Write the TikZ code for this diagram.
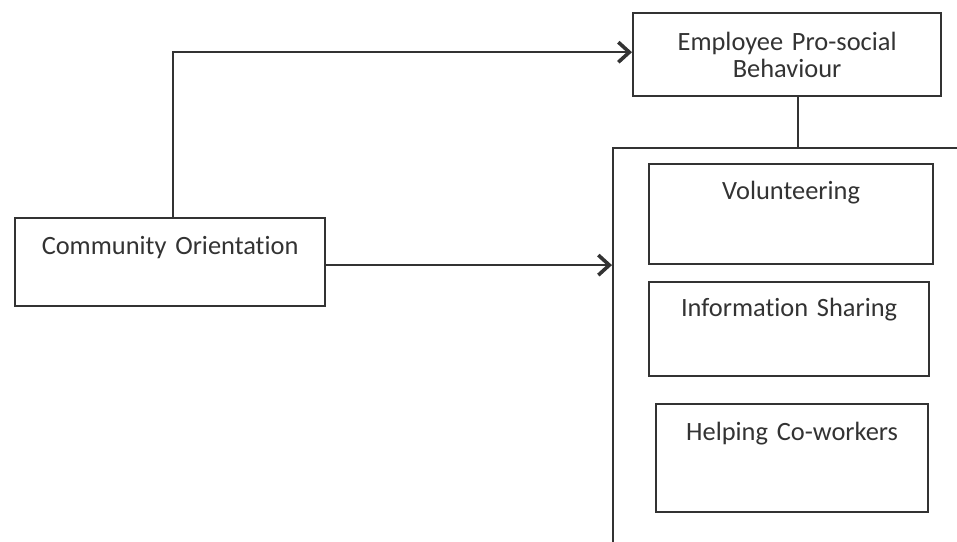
\documentclass[tikz,border=0pt]{standalone}
\usepackage{fontspec}
\setmainfont{Carlito}[Ligatures=NoCommon]
\usetikzlibrary{arrows.meta}

\begin{document}
\begin{tikzpicture}[
    x=0.5pt, y=-0.5pt,
    box/.style={draw=black!80, line width=1.1pt, fill=white, inner sep=0pt, align=center, anchor=north west,
        text=black!80, font=\fontsize{13.2}{13.5}\selectfont},
    frame/.style={draw=black!80, line width=1.1pt, inner sep=0pt, anchor=north west},
    link/.style={draw=black!80, line width=1pt},
    arrow/.style={link, -{Straight Barb[length=5.5pt, width=10pt, line width=1.8pt]}}
]
    \useasboundingbox (0,0) rectangle (957,541);
    \clip (0,0) rectangle (957,541);

    % ==================== LEFT BOX ====================
    \node[box, text width=155pt, text height=18pt, text depth=26pt] (co) at (14,217) {Community Orientation};

    % ==================== TOP BOX ====================
    \node[box, text width=154pt, minimum height=41.5pt] (epb) at (632,12) {Employee Pro-social\\Behaviour};

    % ==================== DIMENSIONS ====================
    % Frame (runs off the page on the right and at the bottom)
    \node[frame, minimum width=250pt, minimum height=250pt] (dims) at (612,147) {};

    \node[box, text width=142pt, text height=17.5pt, text depth=32.5pt] (vol) at (648,163) {Volunteering};
    \node[box, text width=140pt, text height=17pt, text depth=30pt] (info) at (648,281) {Information Sharing};
    \node[box, text width=136pt, text height=18pt, text depth=36pt] (help) at (655,403) {Helping Co-workers};

    % ==================== CONNECTORS ====================
    \draw[arrow] ([xshift=1.5pt]co.north) |- ([yshift=1.2pt]epb.west);
    \draw[arrow] ([yshift=-1.5pt]co.east) -- ([yshift=-1.5pt]co.east -| dims.west);
    \draw[link] ([xshift=5.5pt]epb.south) -- ([xshift=5.5pt]epb.south |- dims.north);

\end{tikzpicture}
\end{document}
